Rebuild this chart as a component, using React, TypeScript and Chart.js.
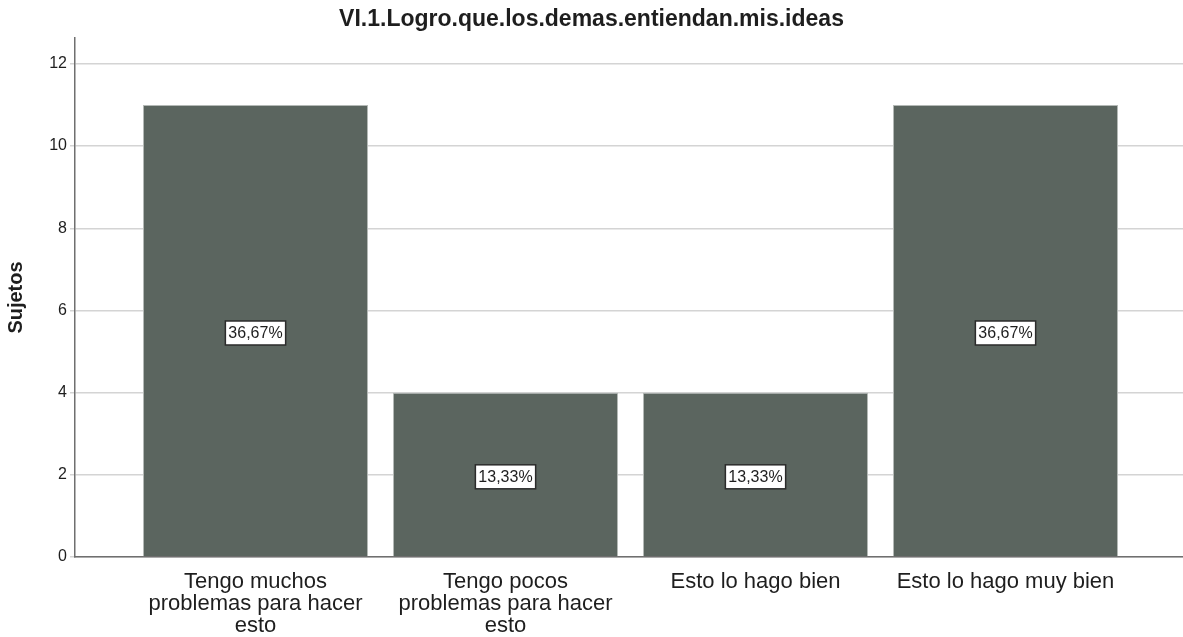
import React, { useEffect, useRef } from "react";
import { Chart, registerables } from "chart.js";

Chart.register(...registerables);

const chartTitle = "VI.1.Logro.que.los.demas.entiendan.mis.ideas";
const yAxisTitle = "Sujetos";
const categories: (string | string[])[] = [
  ["Tengo muchos", "problemas para hacer", "esto"],
  ["Tengo pocos", "problemas para hacer", "esto"],
  "Esto lo hago bien",
  "Esto lo hago muy bien",
];
const counts = [11, 4, 4, 11];
const yTicks = [0, 2, 4, 6, 8, 10, 12];

const FONT = "'Liberation Sans', Arial, sans-serif";
const total = counts.reduce((a, b) => a + b, 0);
const pctLabels = counts.map((v) => ((v / total) * 100).toFixed(2).replace(".", ",") + "%");

const pctPlugin = {
  id: "pctBoxes",
  afterDatasetsDraw(chart: any) {
    const ctx = chart.ctx;
    const meta = chart.getDatasetMeta(0);
    const yScale = chart.scales.y;
    ctx.save();
    ctx.font = `16px ${FONT}`;
    ctx.textAlign = "center";
    ctx.textBaseline = "middle";
    meta.data.forEach((bar: any, i: number) => {
      const text = pctLabels[i];
      const x = bar.x;
      const y = yScale.getPixelForValue(counts[i] / 2) + 2;
      const w = ctx.measureText(text).width + 6;
      const h = 24;
      ctx.fillStyle = "#ffffff";
      ctx.fillRect(x - w / 2, y - h / 2, w, h);
      ctx.strokeStyle = "#2b2b2b";
      ctx.lineWidth = 1.5;
      ctx.strokeRect(x - w / 2, y - h / 2, w, h);
      ctx.fillStyle = "#1e1e1e";
      ctx.fillText(text, x, y + 1);
    });
    ctx.restore();
  },
};

export default function App() {
  const ref = useRef<HTMLCanvasElement | null>(null);
  useEffect(() => {
    if (!ref.current) return;
    const chart = new Chart(ref.current, {
      type: "bar",
      data: {
        datasets: [
          {
            data: counts.map((v, i) => ({ x: i + 1, y: v })),
            backgroundColor: "#5b655f",
            borderColor: "#b4b9b6",
            borderWidth: 1,
            categoryPercentage: 1,
            barPercentage: 0.9,
          },
        ],
      },
      options: {
        animation: false,
        responsive: true,
        maintainAspectRatio: false,
        layout: { padding: 0 },
        plugins: {
          legend: { display: false },
          tooltip: { enabled: false },
          title: {
            display: true,
            text: chartTitle,
            color: "#1e1e1e",
            font: { family: FONT, size: 23, weight: "bold" },
            padding: { top: 6, bottom: 4.4 },
          },
        },
        scales: {
          x: {
            type: "linear",
            min: 0.278,
            max: 4.71,
            offset: false,
            grid: { display: false, drawTicks: false, offset: false },
            border: { display: true, color: "#6f6f6f", width: 1.5 },
            afterBuildTicks: (scale: any) => {
              scale.ticks = categories.map((_, i) => ({ value: i + 1 }));
            },
            afterFit: (scale: any) => {
              scale.height = 80;
            },
            ticks: {
              autoSkip: false,
              maxRotation: 0,
              padding: 14,
              color: "#1e1e1e",
              font: { family: FONT, size: 22, lineHeight: 1.0 },
              callback: (value: any) => categories[Math.round(value) - 1],
            },
          },
          y: {
            type: "linear",
            min: 0,
            max: 12.63,
            afterBuildTicks: (scale: any) => {
              scale.ticks = yTicks.map((v) => ({ value: v }));
            },
            afterFit: (scale: any) => {
              scale.width = 75;
            },
            grid: {
              color: "#d4d4d4",
              lineWidth: 1.5,
              tickLength: 5,
              tickColor: "#d4d4d4",
            },
            border: { display: true, color: "#6f6f6f", width: 1.5 },
            ticks: {
              padding: 3,
              color: "#1e1e1e",
              font: { family: FONT, size: 16 },
            },
            title: {
              display: true,
              text: yAxisTitle,
              color: "#1e1e1e",
              font: { family: FONT, size: 20, weight: "bold" },
              padding: { top: 4, bottom: 0 },
            },
          },
        },
      },
      plugins: [pctPlugin],
    } as any);
    return () => chart.destroy();
  }, []);
  return (
    <div style={{ position: "fixed", left: 0, top: 0, width: 1183, height: 637, background: "#fff" }}>
      <canvas ref={ref} />
    </div>
  );
}
